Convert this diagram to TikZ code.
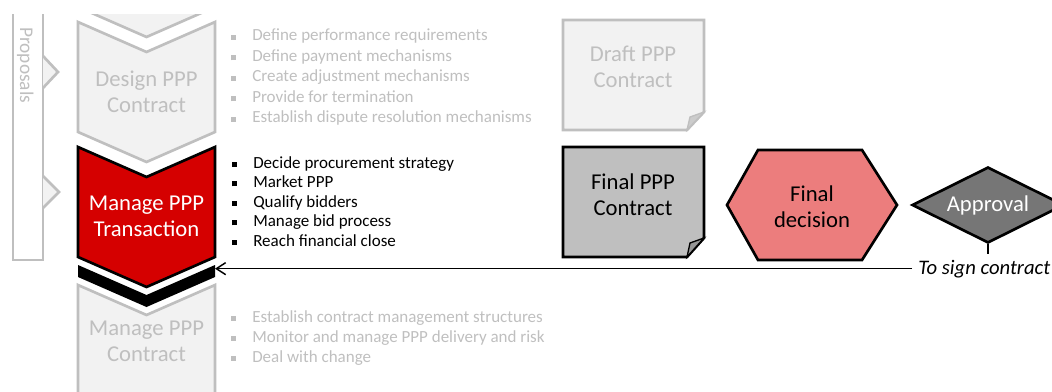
\documentclass[tikz,border=0pt]{standalone}
\usepackage{fontspec}
\setmainfont{Carlito}
\usetikzlibrary{arrows.meta,shapes.geometric}

\definecolor{lgfill}{RGB}{242,242,242}
\definecolor{lgline}{RGB}{191,191,191}
\definecolor{lgtext}{RGB}{191,191,191}
\definecolor{stepred}{RGB}{213,0,0}
\definecolor{docgray}{RGB}{191,191,191}
\definecolor{foldgray}{RGB}{150,150,150}
\definecolor{hexred}{RGB}{236,125,125}
\definecolor{apprgray}{RGB}{118,118,118}

\tikzset{
  chevidle/.style={fill=lgfill, draw=lgline, line width=2pt, line join=miter},
  chevact/.style={fill=stepred, draw=black, line width=2pt, line join=miter},
  bigtxt/.style={align=center, inner sep=0pt, font=\fontsize{17}{19.5}\selectfont},
  listtxt/.style={anchor=base west, inner sep=0pt, font=\fontsize{12.75}{15}\selectfont},
}

% chevron pointing down, #1 style, #2 top y
\newcommand{\chevron}[2]{%
  \draw[#1] (78,#2) -- (146.5,#2+30) -- (215,#2) -- (215,#2+110) -- (146.5,#2+140) -- (78,#2+110) -- cycle;}
% square bullet
\newcommand{\bsq}[1]{\textcolor{#1}{\rule[0.8pt]{3.75pt}{3.75pt}}\hspace{12pt}}

\begin{document}
\begin{tikzpicture}[x=0.75pt,y=0.75pt,yscale=-1,xscale=1]
\useasboundingbox (0,0) rectangle (1052,392);
\begin{scope}
\clip (0,15) rectangle (1052,392);

%Shape: Side bar
\draw [fill=white, draw=lgline, line width=2pt] (13,0) rectangle (43,260);
\draw [fill=lgfill, draw=lgline, line width=2pt] (43,56) -- (58,72) -- (43,88);
\draw [fill=lgfill, draw=lgline, line width=2pt] (43,176) -- (59,192) -- (43,208);
% Text Node
\node [rotate=-90, anchor=base west, inner sep=0pt, text=lgtext, font=\fontsize{14.5}{17}\selectfont] (prop) at (20,27) {Proposals};

%Shape: Chevrons
\chevron{chevidle}{-103}
\chevron{chevidle}{22}
\chevron{chevact}{147}
\chevron{chevidle}{285}
%Shape: Black bar
\fill [black] (78,265) -- (146.5,295) -- (215,265) -- (215,277) -- (146.5,307) -- (78,277) -- cycle;
\coordinate (chevR) at (215,270);

% Text Node
\node [bigtxt, text=lgtext] (design) at (146.5,92) {Design PPP\\Contract};
\node [bigtxt, text=white] (trans) at (146.5,216) {Manage PPP\\Transaction};
\node [bigtxt, text=lgtext] (mngc) at (146.5,341) {Manage PPP\\Contract};

% Bullet lists
\foreach \txt [count=\i] in {Define performance requirements, Define payment mechanisms, Create adjustment mechanisms, Provide for termination, Establish dispute resolution mechanisms}
  \node [listtxt, text=lgtext] (dsg\i) at (231,20.5+20.5*\i) {\bsq{lgline}\txt};
\foreach \txt [count=\i] in {Decide procurement strategy, Market PPP, Qualify bidders, Manage bid process, Reach financial close}
  \node [listtxt, text=black] (trn\i) at (232,148.5+19.5*\i) {\bsq{black}\txt};
\foreach \txt [count=\i] in {Establish contract management structures, Monitor and manage PPP delivery and risk, Deal with change}
  \node [listtxt, text=lgtext] (mng\i) at (231,302+20*\i) {\bsq{lgline}\txt};

%Shape: Draft document
\draw [fill=lgfill, draw=lgline, line width=2pt, line join=miter] (563,20) -- (704,20) -- (704,112) -- (687,130) -- (563,130) -- cycle;
\draw [fill=lgline!80!white, draw=lgline, line width=1pt] (704,112) -- (690,117) -- (687,130) -- cycle;
\node [bigtxt, text=lgtext] (draft) at (633,67) {Draft PPP\\Contract};

%Shape: Final document
\draw [fill=docgray, draw=black, line width=2pt, line join=miter] (563,147) -- (704,147) -- (704,238) -- (687,257) -- (563,257) -- cycle;
\draw [fill=foldgray, draw=black, line width=1pt] (704,238) -- (690,243) -- (687,257) -- cycle;
\node [bigtxt, text=black] (final) at (633,195) {Final PPP\\Contract};

%Shape: Hexagon
\draw [fill=hexred, draw=black, line width=2pt, line join=miter] (727,205) -- (758,150) -- (862,150) -- (897,205) -- (862,260) -- (758,260) -- cycle;
\node [bigtxt, text=black] (decision) at (812,207) {Final\\decision};

%Shape: Diamond
\node [diamond, aspect=2, minimum width=114pt, minimum height=57pt, inner sep=0pt, fill=apprgray, draw=black, line width=2pt, text=white, font=\fontsize{17}{19.5}\selectfont] (appr) at (988,205) {Approval};
\coordinate (stem) at (988,254);
\draw [line width=1.5pt] (appr.south) -- (stem);

% Text Node
\node [anchor=base west, inner sep=0pt, font=\fontsize{15.5}{18}\selectfont\itshape] (sign) at (918,274) {To sign contract};
\draw [line width=1.1pt, shorten <=4.5pt, -{Straight Barb[length=7pt,width=9pt]}] (sign.west) -- (sign.west -| chevR);

\end{scope}
\end{tikzpicture}
\end{document}
